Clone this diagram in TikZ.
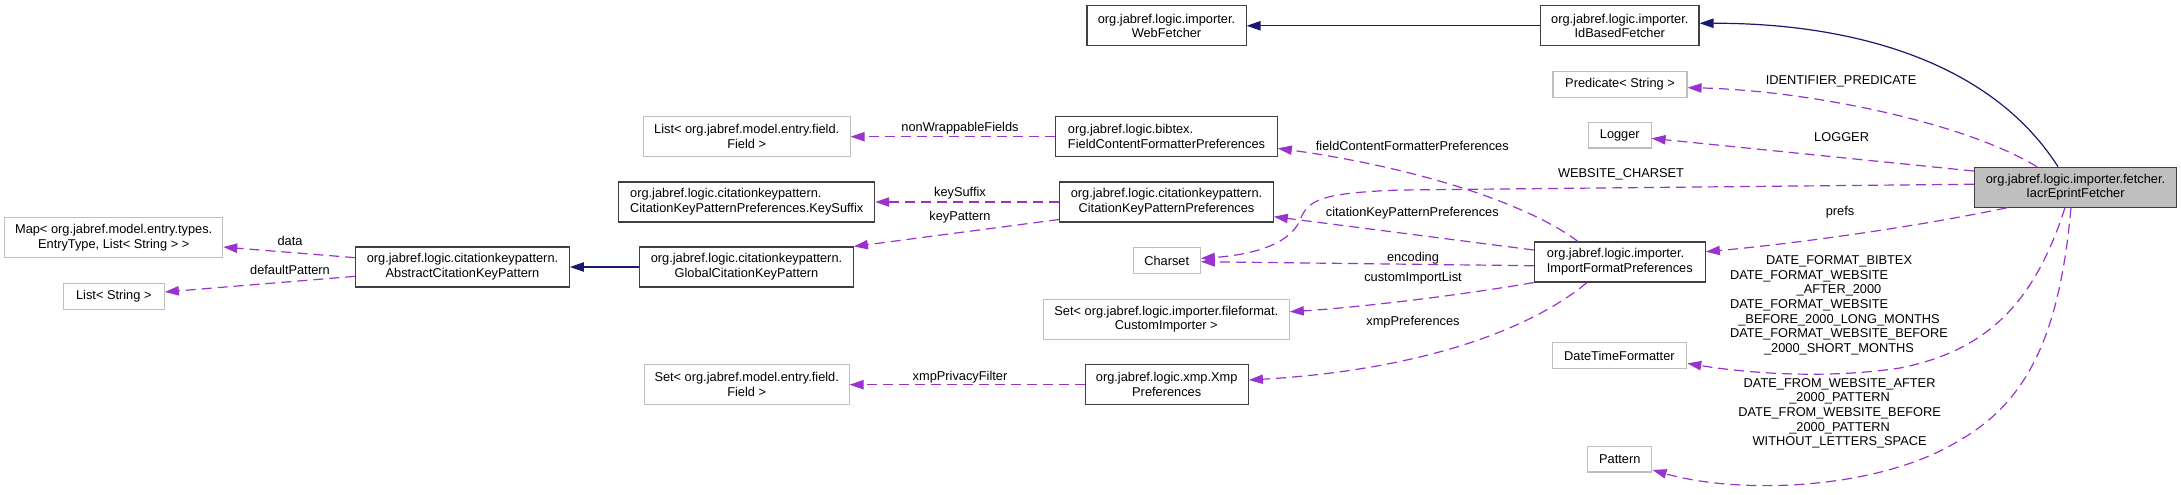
\documentclass[tikz,border=0pt]{standalone}
\usepackage{fontspec}
\setmainfont{Liberation Sans}
\usepackage{tikz}
\usetikzlibrary{arrows.meta}
\definecolor{orchid}{HTML}{9A32CD}
\definecolor{navy}{HTML}{191970}
\definecolor{boxline}{HTML}{404040}
\definecolor{extline}{HTML}{BFBFBF}
\definecolor{curfill}{HTML}{BFBFBF}
\tikzset{every node/.style={font=\fontsize{9.6}{11}\selectfont},
    cls/.style={draw=boxline, line width=0.8pt, minimum height=30pt, inner sep=2pt, align=center},
    ext/.style={draw=extline, line width=0.8pt, minimum height=30pt, inner sep=2pt, align=center},
    cur/.style={cls, fill=curfill},
    lbl/.style={inner sep=0pt, align=center},
    uses/.style={draw=orchid, line width=0.9pt, dash pattern=on 7.5pt off 4.5pt, -{Triangle[length=10.5pt, width=7pt]}},
    isa/.style={draw=navy, line width=0.9pt, -{Triangle[length=10.5pt, width=7pt]}}}

\begin{document}
\begin{tikzpicture}[x = 0.75pt, y = -0.75pt]
    \useasboundingbox (0, 0) rectangle (2181, 494);

    \node[cls, minimum width=119.3pt] (web) at (1166.5, 25.8) {org.jabref.logic.importer.\\WebFetcher};
    \node[cls, minimum width=118.8pt] (idb) at (1619.8, 25.8) {org.jabref.logic.importer.\\IdBasedFetcher};
    \node[ext, minimum width=100.5pt, minimum height=19.2pt] (pred) at (1620, 84.5) {Predicate< String >};
    \node[ext, minimum width=46.9pt, minimum height=19pt] (logger) at (1619.8, 135.3) {Logger};
    \node[cur, minimum width=151.8pt] (iacr) at (2075.5, 187.3) {org.jabref.logic.importer.fetcher.\\IacrEprintFetcher};
    \node[cls, minimum width=166.2pt, align=left] (fcfp) at (1166.5, 136.7) {org.jabref.logic.bibtex.\\FieldContentFormatterPreferences};
    \node[cls, minimum width=160.2pt] (ckpp) at (1166.5, 202) {org.jabref.logic.citationkeypattern.\\CitationKeyPatternPreferences};
    \node[ext, minimum width=50.5pt, minimum height=19.2pt] (charset) at (1166.7, 260.5) {Charset};
    \node[ext, minimum width=184.5pt] (custom) at (1166.3, 319.2) {Set< org.jabref.logic.importer.fileformat.\\CustomImporter >};
    \node[cls, minimum width=122.5pt] (xmp) at (1166.7, 384.7) {org.jabref.logic.xmp.Xmp\\Preferences};
    \node[cls, minimum width=128.3pt, align=left] (ifp) at (1619.8, 262) {org.jabref.logic.importer.\\ImportFormatPreferences};
    \node[ext, minimum width=101pt, minimum height=19.2pt] (dtf) at (1619.4, 355.5) {DateTimeFormatter};
    \node[ext, minimum width=48.2pt, minimum height=19pt] (pattern) at (1619.8, 459.3) {Pattern};
    \node[ext, minimum width=155pt] (listField) at (746.7, 136.7) {List< org.jabref.model.entry.field.\\Field >};
    \node[cls, minimum width=192pt, align=left] (keySuffix) at (746.7, 202) {org.jabref.logic.citationkeypattern.\\CitationKeyPatternPreferences.KeySuffix};
    \node[cls, minimum width=160.3pt] (global) at (746.5, 267) {org.jabref.logic.citationkeypattern.\\GlobalCitationKeyPattern};
    \node[ext, minimum width=153.5pt] (setField) at (746.7, 384.7) {Set< org.jabref.model.entry.field.\\Field >};
    \node[cls, minimum width=160.2pt] (abstract) at (462.5, 267) {org.jabref.logic.citationkeypattern.\\AbstractCitationKeyPattern};
    \node[ext, minimum width=163.5pt] (map) at (113.7, 237.7) {Map< org.jabref.model.entry.types.\\EntryType, List< String > >};
    \node[ext, minimum width=75.8pt, minimum height=19.2pt] (listString) at (113.8, 296.5) {List< String >};

    \draw[isa] (idb.west) -- (web.east);
    \draw[isa] ([xshift=-13.1pt]iacr.north) .. controls (1990, 60) and (1850, 23) .. ([yshift=1.9pt]idb.east);
    \draw[isa] (global.west) -- (abstract.east);

    \draw[uses] ([xshift=-28.9pt]iacr.north) .. controls (1960, 120) and (1800, 90) .. ([yshift=-2.4pt]pred.east);
    \draw[uses] ([yshift=12.2pt]iacr.west) -- ([yshift=-2.3pt]logger.east);
    \draw[uses] ([yshift=2.3pt]iacr.west) -- (1400, 190) .. controls (1320, 193) and (1308, 200) .. (1300, 220) .. controls (1290, 245) and (1250, 255) .. ([yshift=1.6pt]charset.east);
    \draw[uses] ([xshift=-51.6pt]iacr.south) .. controls (1900, 230) and (1780, 245) .. ([yshift=7.7pt]ifp.east);
    \draw[uses] ([xshift=-7.9pt]iacr.south) .. controls (2035, 300) and (1990, 350) .. (1900, 368) .. controls (1820, 380) and (1740, 372) .. ([yshift=-5.9pt]dtf.east);
    \draw[uses] ([xshift=-3.4pt]iacr.south) .. controls (2060, 330) and (2030, 400) .. (1960, 440) .. controls (1880, 490) and (1740, 495) .. ([yshift=-8pt]pattern.east);

    \draw[uses] ([xshift=-31.4pt]ifp.north) .. controls (1530, 205) and (1420, 168) .. ([yshift=-8.7pt]fcfp.east);
    \draw[uses] ([yshift=9pt]ifp.west) -- ([yshift=-11pt]ckpp.east);
    \draw[uses] ([yshift=-2.8pt]ifp.west) -- ([yshift=-0.9pt]charset.east);
    \draw[uses] (ifp.south west) .. controls (1450, 297) and (1350, 308) .. ([yshift=5.6pt]custom.east);
    \draw[uses] ([xshift=-24.6pt]ifp.south) .. controls (1530, 330) and (1420, 370) .. ([yshift=3.5pt]xmp.east);

    \draw[uses] ([yshift=-13.1pt]ckpp.west) -- (global.north east);
    \foreach \a/\b in {fcfp/listField, ckpp/keySuffix, xmp/setField}
    {
        \draw[uses] (\a.west) -- (\b.east);
    }
    \draw[uses] ([yshift=7pt]abstract.west) -- ([yshift=-7pt]map.east);
    \draw[uses] ([yshift=-7pt]abstract.west) -- ([yshift=3.4pt]listString.east);

    \node[lbl] (lData) at (290, 241.3) {data};
    \node[lbl] (lDefault) at (290, 270.3) {defaultPattern};
    \node[lbl] (lNonWrap) at (960, 128.3) {nonWrappableFields};
    \node[lbl] (lSuffix) at (960, 193.3) {keySuffix};
    \node[lbl] (lKeyPattern) at (960, 217.3) {keyPattern};
    \node[lbl] (lPrivacy) at (960, 376.7) {xmpPrivacyFilter};
    \node[lbl] (lFcfp) at (1412.3, 145.7) {fieldContentFormatterPreferences};
    \node[lbl] (lCkpp) at (1412.3, 213.3) {citationKeyPatternPreferences};
    \node[lbl] (lEncoding) at (1413, 257.7) {encoding};
    \node[lbl] (lCustom) at (1413, 278.3) {customImportList};
    \node[lbl] (lXmp) at (1413, 321.7) {xmpPreferences};
    \node[lbl] (lCharset) at (1621, 174) {WEBSITE\_CHARSET};
    \node[lbl] (lIdent) at (1841, 81.3) {IDENTIFIER\_PREDICATE};
    \node[lbl] (lLogger) at (1841.6, 137) {LOGGER};
    \node[lbl] (lPrefs) at (1840, 212.3) {prefs};
    \node[lbl] (lDate) at (1839, 305.3) {DATE\_FORMAT\_BIBTEX\\DATE\_FORMAT\_WEBSITE\phantom{\_BEFORE}\\\_AFTER\_2000\\DATE\_FORMAT\_WEBSITE\phantom{\_BEFORE}\\\_BEFORE\_2000\_LONG\_MONTHS\\DATE\_FORMAT\_WEBSITE\_BEFORE\\\_2000\_SHORT\_MONTHS};
    \node[lbl] (lFrom) at (1839.6, 413.3) {DATE\_FROM\_WEBSITE\_AFTER\\\_2000\_PATTERN\\DATE\_FROM\_WEBSITE\_BEFORE\\\_2000\_PATTERN\\WITHOUT\_LETTERS\_SPACE};
\end{tikzpicture}
\end{document}
